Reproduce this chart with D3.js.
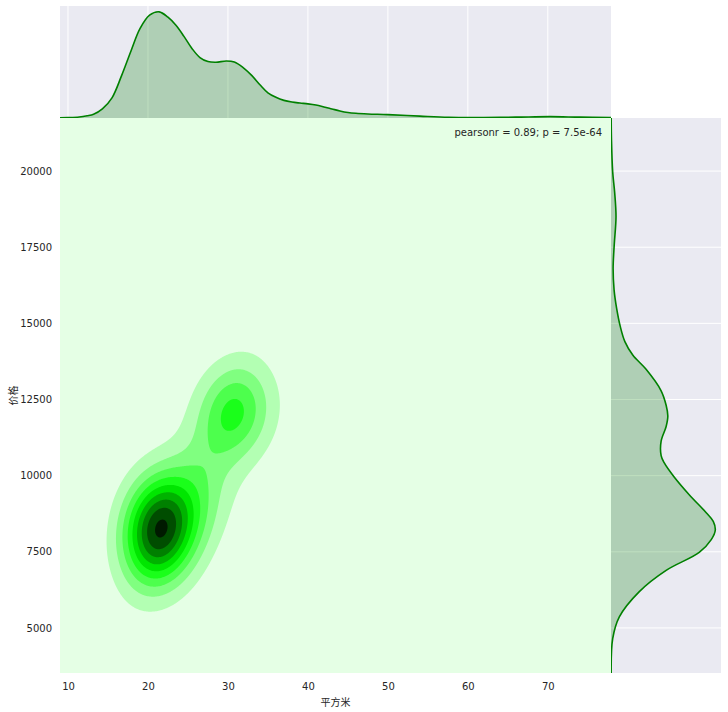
<!DOCTYPE html>
<html><head><meta charset="utf-8">
<script src="https://cdn.jsdelivr.net/npm/d3@7"></script>
<style>body{margin:0;background:#fff} text{font-family:"DejaVu Sans",sans-serif}</style>
</head><body><svg id="c" width="728" height="712"></svg>
<script>
// ---------- data ----------
const xTicks = [10, 20, 30, 40, 50, 60, 70];
const yTicks = [5000, 7500, 10000, 12500, 15000, 17500, 20000];
const xLabel = "平方米";
const yLabel = "价格";
const statText = "pearsonr = 0.89; p = 7.5e-64";

// marginal density of x (top panel)
const xGrid = [9,10,11.4,12.4,13.2,14.3,15.5,16.7,17.9,19.0,20.2,21.4,22.5,23.5,24.5,25.5,26.5,27.5,28.5,29.8,30.8,31.9,33,34,35,36,37,38,39,40,41,42,43,44,45,46,47.5,50,54,57.6,62,66,70.3,74,77.9];
const xDensity = [0.00012,0.00024,0.0006,0.00132,0.00222,0.0054,0.012,0.0252,0.0402,0.0532,0.0612,0.0632,0.06,0.0552,0.0486,0.0414,0.036,0.0336,0.0332,0.0339,0.0333,0.03,0.0252,0.0198,0.015,0.0123,0.0105,0.0095,0.0089,0.0084,0.0077,0.0066,0.0054,0.0042,0.0033,0.0028,0.0024,0.002,0.0011,0.0004,0.0003,0.0005,0.0008,0.0005,0.0003];

// marginal density of y (right panel), per 1000 units
const yGrid = [3520,4647,5362,6185,6890,7480,7900,8207,8500,8784,9375,9957,10427,10658,11132,11612,11957,12312,12787,13490,13960,14400,14900,15500,16100,16800,17600,18500,19300,19970,21000,21743];
const yDensity = [0.0005,0.0044,0.0216,0.0728,0.143,0.2288,0.26,0.2704,0.2652,0.247,0.2028,0.1638,0.1378,0.13,0.13,0.143,0.1474,0.143,0.13,0.091,0.0564,0.036,0.024,0.0145,0.008,0.0055,0.0085,0.013,0.0095,0.0044,0.0013,0.0005];

// joint density: clusters
const clusterX   = [21.2, 30.9, 25.5, 26, 31, 21.3];
const clusterY   = [8250, 12100, 9900, 8800, 12000, 8000];
const clusterSX  = [3.0, 3.0, 4.6, 3.5, 5.5, 4.5];
const clusterSY  = [1200, 1050, 2300, 1400, 1600, 1800];
const clusterRho = [0.12, 0.1, 0.78, 0.4, 0.2, 0.2];
const clusterAmp = [7.5, 3.2, 0.85, 1.7, 0.7, 0.6];
const levelCount = 9;
const levelLight = [95, 85, 75, 65, 55, 45, 35, 25, 15, 5];

// ---------- layout ----------
const svg = d3.select("#c");
const J = {l: 60, r: 611, t: 118, b: 673};
const T = {t: 6, b: 118};
const R = {l: 611, r: 721};
const bg = "#eaeaf2", green = "#008000", txt = "#262626";

const xs = d3.scaleLinear().domain([9, 77.9]).range([J.l, J.r]);
const ys = d3.scaleLinear().domain([3520, 21743]).range([J.b, J.t]);

// ---------- top marginal ----------
const topY = d3.scaleLinear().domain([0, d3.max(xDensity) * 1.055]).range([T.b, T.t]);
svg.append("rect").attr("x", J.l).attr("y", T.t).attr("width", J.r - J.l).attr("height", T.b - T.t).attr("fill", bg);
svg.append("g").selectAll("line").data(xTicks).join("line")
  .attr("x1", d => xs(d)).attr("x2", d => xs(d)).attr("y1", T.t).attr("y2", T.b)
  .attr("stroke", "#fff").attr("stroke-width", 1);
const xPts = xGrid.map((v, i) => [v, xDensity[i]]);
svg.append("path").datum(xPts)
  .attr("d", d3.area().curve(d3.curveCatmullRom).x(d => xs(d[0])).y0(T.b).y1(d => topY(d[1])))
  .attr("fill", green).attr("fill-opacity", 0.25);
svg.append("path").datum(xPts)
  .attr("d", d3.line().curve(d3.curveCatmullRom).x(d => xs(d[0])).y(d => topY(d[1])))
  .attr("fill", "none").attr("stroke", green).attr("stroke-width", 1.6);

// ---------- right marginal ----------
const rX = d3.scaleLinear().domain([0, d3.max(yDensity) * 1.055]).range([R.l, R.r]);
svg.append("rect").attr("x", R.l).attr("y", J.t).attr("width", R.r - R.l).attr("height", J.b - J.t).attr("fill", bg);
svg.append("g").selectAll("line").data(yTicks).join("line")
  .attr("y1", d => ys(d)).attr("y2", d => ys(d)).attr("x1", R.l).attr("x2", R.r)
  .attr("stroke", "#fff").attr("stroke-width", 1);
const yPts = yGrid.map((v, i) => [v, yDensity[i]]);
svg.append("path").datum(yPts)
  .attr("d", d3.area().curve(d3.curveCatmullRom).y(d => ys(d[0])).x0(R.l).x1(d => rX(d[1])))
  .attr("fill", green).attr("fill-opacity", 0.25);
svg.append("path").datum(yPts)
  .attr("d", d3.line().curve(d3.curveCatmullRom).y(d => ys(d[0])).x(d => rX(d[1])))
  .attr("fill", "none").attr("stroke", green).attr("stroke-width", 1.6);

// ---------- joint KDE ----------
const W = J.r - J.l, H = J.b - J.t;
const vals = new Float64Array(W * H);
for (let j = 0; j < H; j++) {
  const yv = ys.invert(J.t + j + 0.5);
  for (let i = 0; i < W; i++) {
    const xv = xs.invert(J.l + i + 0.5);
    let s = 0;
    for (let k = 0; k < clusterX.length; k++) {
      const u = (xv - clusterX[k]) / clusterSX[k];
      const v = (yv - clusterY[k]) / clusterSY[k];
      const r = clusterRho[k];
      s += clusterAmp[k] * Math.exp(-0.5 * (u * u - 2 * r * u * v + v * v) / (1 - r * r));
    }
    vals[i + j * W] = s;
  }
}
const vmax = d3.max(vals);
const step = vmax / (levelCount + 0.25);
const thresholds = d3.range(1, levelCount + 1).map(k => k * step);
const color = L => d3.hsl(120, 1, L / 100).formatHex();
const cg = svg.append("g");
cg.append("rect").attr("x", J.l).attr("y", J.t).attr("width", W).attr("height", H).attr("fill", color(levelLight[0]));
const conts = d3.contours().size([W, H]).thresholds(thresholds)(vals);
cg.append("g").attr("transform", `translate(${J.l},${J.t})`)
  .selectAll("path").data(conts).join("path")
  .attr("d", d3.geoPath())
  .attr("fill", (d, i) => color(levelLight[i + 1]));

// ---------- axes ----------
const ax = svg.append("g").attr("transform", `translate(0,${J.b})`)
  .call(d3.axisBottom(xs).tickValues(xTicks).tickSize(0).tickPadding(10));
const ay = svg.append("g").attr("transform", `translate(${J.l},0)`)
  .call(d3.axisLeft(ys).tickValues(yTicks).tickSize(0).tickPadding(8).tickFormat(d3.format("d")));
[ax, ay].forEach(g => {
  g.select(".domain").remove();
  g.selectAll("text").attr("fill", txt).style("font-size", "10px").style("font-family", "DejaVu Sans");
});

svg.append("text").attr("x", (J.l + J.r) / 2).attr("y", 706).attr("text-anchor", "middle")
  .attr("fill", txt).style("font-size", "10px").style("font-family", "'Noto Sans CJK SC',sans-serif").text(xLabel);
svg.append("text").attr("transform", `translate(17,${(J.t + J.b) / 2}) rotate(-90)`).attr("text-anchor", "middle")
  .attr("fill", txt).style("font-size", "10px").style("font-family", "'Noto Sans CJK SC',sans-serif").text(yLabel);

svg.append("text").attr("x", 602).attr("y", 135.5).attr("text-anchor", "end")
  .attr("fill", txt).style("font-size", "10px").text(statText);
</script></body></html>
